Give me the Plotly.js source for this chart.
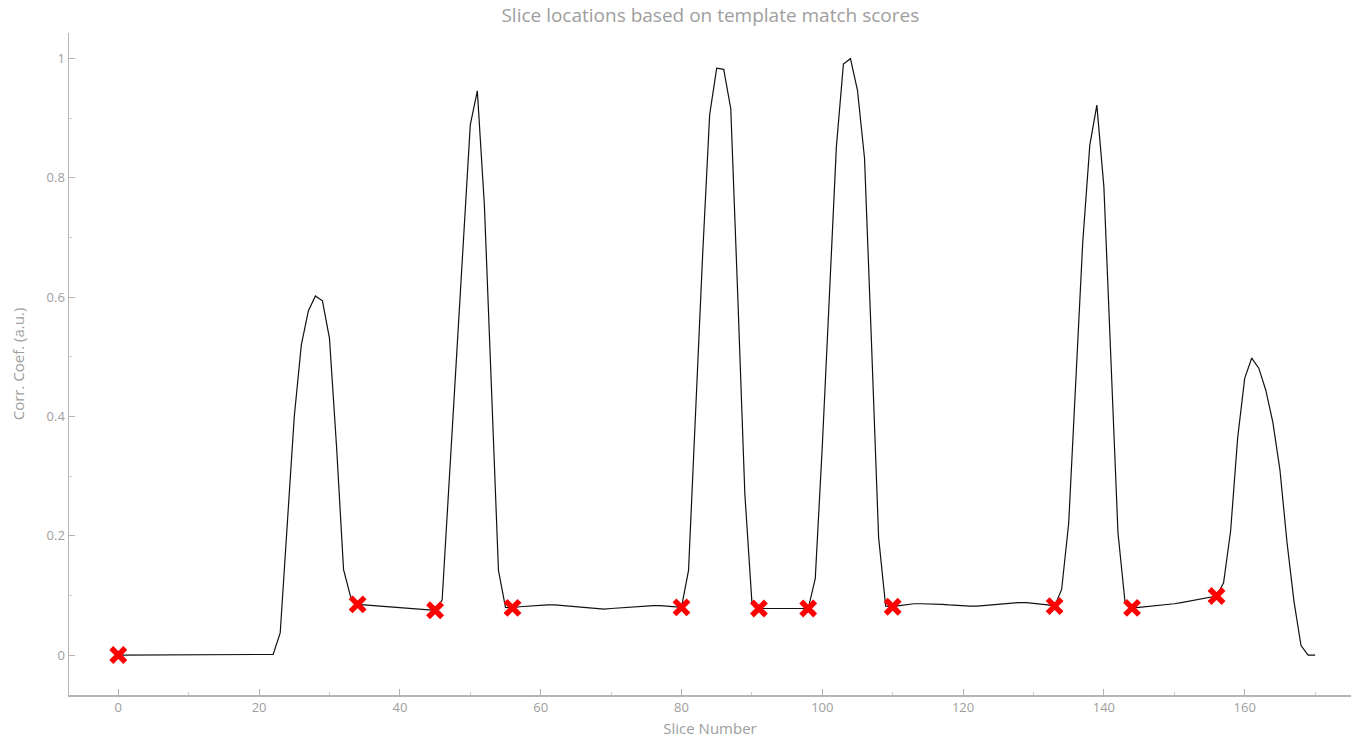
<!DOCTYPE html>
<html>
<head>
<meta charset="utf-8">
<script src="https://cdn.plot.ly/plotly-3.0.1.min.js"></script>
<style>html,body{margin:0;padding:0;background:#fff;}#chart{width:1353px;height:738px;}</style>
</head>
<body>
<div id="chart"></div>
<script>
// Correlation coefficient per slice (slices 0..170)
const corrValues = [
  0,0,0,0,0,0,0,0,0,0,0,0,0,0,0,0,0,0,0,0,0,0,      // 0-21
  0.001,0.037,0.21,0.40,0.52,0.577,0.602,0.594,0.531,0.35,0.143,0.098, // 22-33
  0.085,0.084,0.083,0.083,0.082,0.081,0.080,0.078,0.077,0.076,0.076,0.075, // 34-45
  0.092,0.289,0.489,0.689,0.889,0.946,0.755,0.45,0.142,0.080, // 46-55
  0.079,0.081,0.082,0.083,0.084,0.084,0.084,0.083,0.082,0.080,0.079,0.078,0.077,0.077,0.078,0.079,0.080,0.081,0.082,0.083,0.083,0.083,0.082,0.081,0.080, // 56-80
  0.142,0.41,0.67,0.906,0.984,0.982,0.916,0.60,0.27,0.089, // 81-90
  0.078,0.078,0.078,0.078,0.078,0.078,0.078,0.078, // 91-98
  0.128,0.35,0.60,0.852,0.991,1.0,0.947,0.833,0.52,0.197,0.082, // 99-109
  0.081,0.083,0.085,0.086,0.086,0.086,0.086,0.085,0.084,0.083,0.082,0.082,0.082,0.083,0.085,0.086,0.087,0.088,0.088,0.088,0.087,0.086,0.084,0.082, // 110-133
  0.11,0.221,0.47,0.693,0.855,0.922,0.785,0.50,0.205,0.089, // 134-143
  0.079,0.080,0.081,0.082,0.083,0.085,0.086,0.088,0.090,0.092,0.094,0.096,0.099, // 144-156
  0.121,0.208,0.364,0.464,0.498,0.481,0.444,0.39,0.311,0.19,0.09,0.016,0.0,0.0 // 157-170
];
const sliceNumbers = corrValues.map((_, i) => i);

// Detected slice locations
const matchSlices = [0, 34, 45, 56, 80, 91, 98, 110, 133, 144, 156];
const matchScores = [0, 0.085, 0.075, 0.079, 0.080, 0.078, 0.078, 0.081, 0.082, 0.079, 0.099];

const titleText = 'Slice locations based on template match scores';
const xTitle = 'Slice Number';
const yTitle = 'Corr. Coef. (a.u.)';

const grey = '#9e9e9e';
const fontFam = '"Open Sans", "Noto Sans", sans-serif';

const traces = [
  {
    x: sliceNumbers, y: corrValues, type: 'scatter', mode: 'lines',
    line: {color: '#111111', width: 1.2}, hoverinfo: 'x+y'
  },
  {
    x: matchSlices, y: matchScores, type: 'scatter', mode: 'markers',
    marker: {symbol: 'x-thin', size: 14, color: '#ff0000', line: {color: '#ff0000', width: 5.5}}
  }
];

const layout = {
  width: 1353, height: 738,
  margin: {l: 69, r: 2, t: 33, b: 43},
  paper_bgcolor: '#ffffff', plot_bgcolor: '#ffffff',
  showlegend: false,
  font: {family: fontFam, color: grey, size: 13},
  title: {text: titleText, x: 0.525, xanchor: 'center', y: 0.988, yanchor: 'top',
          font: {family: fontFam, size: 19, color: grey}},
  xaxis: {
    range: [-7, 175.1], showgrid: false, zeroline: false,
    showline: true, linecolor: '#b5b5b5', linewidth: 1.5,
    ticks: 'inside', ticklen: 6, tickcolor: '#b5b5b5', tickwidth: 1,
    dtick: 20, tick0: 0,
    minor: {ticks: 'inside', ticklen: 3, dtick: 10, tickcolor: '#cccccc', showgrid: false},
    tickfont: {size: 13, color: grey},
    title: {text: xTitle, standoff: 8, font: {size: 15, color: grey}}
  },
  yaxis: {
    range: [-0.067, 1.043], showgrid: false, zeroline: false,
    showline: true, linecolor: '#b5b5b5', linewidth: 1.5,
    ticks: 'inside', ticklen: 6, tickcolor: '#b5b5b5', tickwidth: 1,
    dtick: 0.2, tick0: 0,
    minor: {ticks: 'inside', ticklen: 3, dtick: 0.1, tickcolor: '#cccccc', showgrid: false},
    tickfont: {size: 13, color: grey},
    title: {text: yTitle, standoff: 18, font: {size: 15, color: grey}}
  }
};

Plotly.newPlot('chart', traces, layout, {displayModeBar: false, staticPlot: true});
</script>
</body>
</html>
